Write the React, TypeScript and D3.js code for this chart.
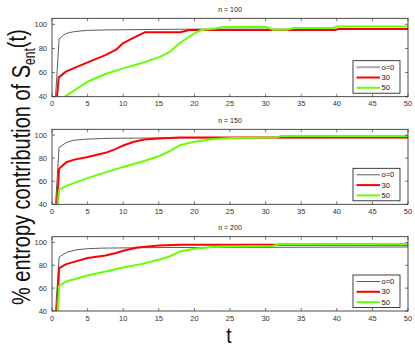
import React from "react";
import * as d3 from "d3";

// [t, % entropy contribution]
const n100Black = [[0.5, 40], [1, 88], [1.5, 90.5], [2, 92.5], [3, 93.8], [4, 94.5], [5, 95], [7, 95.3], [10, 95.5], [15, 95.8], [20, 96], [50, 96]];
const n100Red = [[0.7, 40], [0.95, 56], [2, 61], [3, 63.5], [5, 68.5], [7.5, 74.5], [9, 79], [10, 84.5], [11, 87.5], [12, 90.5], [13, 93.4], [18, 93.4], [19.3, 95.3], [39.8, 95.3], [40.3, 96.2], [50, 96.2]];
const n100Green = [[1.8, 40], [3, 44.7], [5, 52.4], [7.5, 58.8], [10, 63.5], [12.5, 67.7], [15, 72.6], [16.5, 77], [18, 84.7], [20, 92.5], [21, 95.3], [23, 96.5], [24, 97.8], [30, 98], [31, 95.6], [33, 95.6], [34, 97], [39.5, 97], [40, 98.3], [50, 98.3]];

const n150Black = [[0.5, 40], [1, 89.5], [2, 93.4], [3, 95.5], [5, 96.5], [8, 97.2], [15, 97.5], [50, 97.8]];
const n150Red = [[0.7, 40], [1, 70.9], [2, 76.4], [3, 78.5], [5, 81], [7.5, 84.6], [9, 88], [10, 91], [11.5, 94.2], [13, 96.2], [15, 97], [18, 98], [50, 98]];
const n150Green = [[0.8, 40], [1, 52.5], [2, 56], [5, 62.7], [7.5, 67.7], [10, 72.4], [12.5, 76.7], [15, 81.6], [16.5, 86], [18, 91.3], [20, 94.2], [22.5, 96.3], [25, 97.5], [31.5, 98], [32.2, 99.2], [50, 99.2]];

const n200Black = [[0.5, 40], [1, 87.2], [2, 91.2], [3.5, 93.6], [5, 94.5], [7, 95], [15, 95.5], [50, 96]];
const n200Red = [[0.7, 40], [1, 77.5], [2, 81], [5, 86.3], [7.5, 88.6], [9, 90.7], [10, 92.7], [12, 95.6], [15, 97.4], [18, 98], [50, 98]];
const n200Green = [[0.8, 40], [1, 62], [2, 65.8], [5, 71], [7.5, 74.6], [10, 78], [12.5, 81], [15, 84.8], [16.5, 87.7], [18, 92.1], [20, 94.5], [22.5, 96], [25, 96.5], [31, 96.8], [32, 98.7], [50, 98.7]];

const panelTitles = ["n = 100", "n = 150", "n = 200"];
const legendLabels = ["o=0", "30", "50"];
const xTicks = [0, 5, 10, 15, 20, 25, 30, 35, 40, 45, 50];
const yTicks = [40, 60, 80, 100];

const panelData = [
  [n100Black, n100Red, n100Green],
  [n150Black, n150Red, n150Green],
  [n200Black, n200Red, n200Green],
];

const W = 415;
const H = 346;
const left = 52;
const right = 408;
const tops = [18.3, 129.3, 236.7];
const bottoms = [96.7, 204.3, 311];

const lineStyle = [
  { color: "#333", width: 0.8 },
  { color: "#ff0000", width: 2 },
  { color: "#66ff00", width: 2 },
];

const font = "'Liberation Sans', Arial, Helvetica, sans-serif";

const x = d3.scaleLinear().domain([0, 50]).range([left, right]);

function Panel({ idx }: { idx: number }) {
  const top = tops[idx];
  const bottom = bottoms[idx];
  const y = d3.scaleLinear().domain([40, 105]).range([bottom, top]);
  const line = d3
    .line<number[]>()
    .x((d) => x(d[0]))
    .y((d) => y(d[1]));
  const clipId = `clip${idx}`;
  const lgRight = right - 8;
  const lgBottom = bottom - 3.5;
  const lgW = 47;
  const lgH = 32.5;
  const lgLeft = lgRight - lgW;
  const lgTop = lgBottom - lgH;
  return (
    <g>
      <clipPath id={clipId}>
        <rect x={left} y={top} width={right - left} height={bottom - top} />
      </clipPath>
      <text x={(left + right) / 2} y={top - 6.5} fontSize={7} textAnchor="middle" fill="#222">
        {panelTitles[idx]}
      </text>
      <g clipPath={`url(#${clipId})`}>
        {[0, 1, 2].map((s) => (
          <path
            key={s}
            d={line(panelData[idx][s] as number[][]) || ""}
            fill="none"
            stroke={lineStyle[s].color}
            strokeWidth={lineStyle[s].width}
            strokeLinejoin="round"
          />
        ))}
      </g>
      <rect x={left} y={top} width={right - left} height={bottom - top} fill="none" stroke="#222" strokeWidth={0.8} />
      {xTicks.map((t) => (
        <g key={"x" + t}>
          <line x1={x(t)} x2={x(t)} y1={bottom} y2={bottom - 3} stroke="#222" strokeWidth={0.6} />
          <line x1={x(t)} x2={x(t)} y1={top} y2={top + 3} stroke="#222" strokeWidth={0.6} />
          <text x={x(t)} y={bottom + 9.5} fontSize={7.5} textAnchor="middle" fill="#333">
            {t}
          </text>
        </g>
      ))}
      {yTicks.map((t) => (
        <g key={"y" + t}>
          <line x1={left} x2={left + 3} y1={y(t)} y2={y(t)} stroke="#222" strokeWidth={0.6} />
          <line x1={right} x2={right - 3} y1={y(t)} y2={y(t)} stroke="#222" strokeWidth={0.6} />
          <text x={47} y={y(t)} dy="0.35em" fontSize={7.5} textAnchor="end" fill="#333">
            {t}
          </text>
        </g>
      ))}
      <rect x={lgLeft} y={lgTop} width={lgW} height={lgH} fill="#fff" stroke="#111" strokeWidth={0.8} />
      {legendLabels.map((lab, i) => {
        const ly = lgTop + 6.5 + i * 10.3;
        const st = idx === 0 && i === 0 ? { color: "#aaa", width: 2 } : lineStyle[i];
        return (
          <g key={lab}>
            <line x1={lgLeft + 3.5} x2={lgLeft + 27} y1={ly} y2={ly} stroke={st.color} strokeWidth={st.width} />
            <text x={lgLeft + 28.5} y={ly} dy="0.35em" fontSize={7.5} fill="#111">
              {lab}
            </text>
          </g>
        );
      })}
    </g>
  );
}

export default function App() {
  return (
    <svg
      width={W}
      height={H}
      style={{ position: "absolute", left: 0, top: 0, background: "#fff" }}
      fontFamily={font}
    >
      <rect width={W} height={H} fill="#fff" />
      {[0, 1, 2].map((i) => (
        <Panel key={i} idx={i} />
      ))}
      <g transform="translate(30,305) rotate(-90) scale(1,1.3)">
        <text x={0} y={0} fontSize={20} fill="#111">
          % entropy contribution of S
          <tspan fontSize={12} dy={3.5}>ent</tspan>
          <tspan dy={-6.5}>(t)</tspan>
        </text>
      </g>
      <text x={229} y={343} fontSize={19} textAnchor="middle" fill="#111" transform="translate(229,343) scale(1,1.15) translate(-229,-343)">
        t
      </text>
    </svg>
  );
}
